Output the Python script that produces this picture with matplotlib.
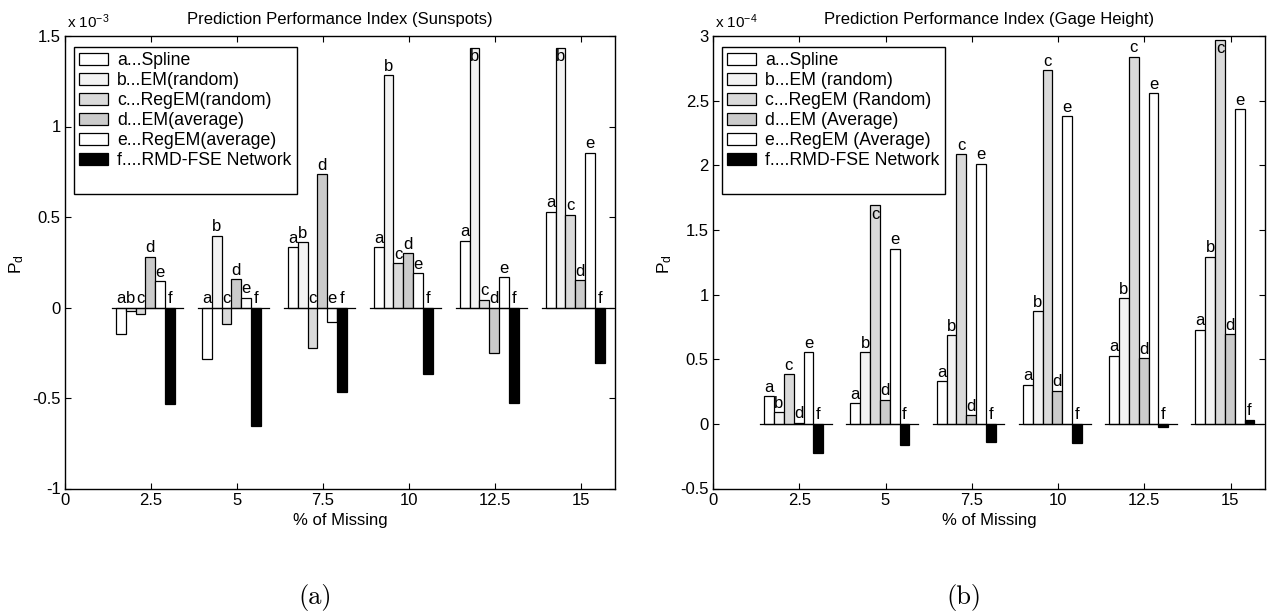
import matplotlib.pyplot as plt
from matplotlib.patches import Patch
import numpy as np

plt.rcParams['font.family'] = ['Liberation Sans', 'DejaVu Sans']
plt.rcParams['axes.unicode_minus'] = False
plt.rcParams['mathtext.fontset'] = 'custom'
plt.rcParams['mathtext.rm'] = 'Liberation Sans'
plt.rcParams['mathtext.it'] = 'Liberation Sans:italic'

missing = [2.5, 5, 7.5, 10, 12.5, 15]
letters = ['a', 'b', 'c', 'd', 'e', 'f']
xtick_labels = ['0', '2.5', '5', '7.5', '10', '12.5', '15']

# Sunspots, P_d x 1e-3
sun_a = [-0.144, -0.286, 0.332, 0.332, 0.369, 0.530]
sun_b = [-0.022, 0.397, 0.360, 1.283, 1.434, 1.436]
sun_c = [-0.037, -0.092, -0.221, 0.246, 0.043, 0.513]
sun_d = [0.281, 0.157, 0.738, 0.299, -0.249, 0.152]
sun_e = [0.146, 0.055, -0.079, 0.190, 0.166, 0.856]
sun_f = [-0.535, -0.655, -0.467, -0.369, -0.526, -0.305]
sun_names = ['a...Spline', 'b...EM(random)', 'c...RegEM(random)',
             'd...EM(average)', 'e...RegEM(average)', 'f....RMD-FSE Network']

# Gage height, P_d x 1e-4
gage_a = [0.212, 0.160, 0.328, 0.302, 0.527, 0.729]
gage_b = [0.090, 0.553, 0.685, 0.871, 0.974, 1.292]
gage_c = [0.385, 1.690, 2.085, 2.736, 2.840, 2.969]
gage_d = [0.008, 0.186, 0.065, 0.256, 0.509, 0.695]
gage_e = [0.553, 1.354, 2.013, 2.382, 2.556, 2.434]
gage_f = [-0.222, -0.163, -0.137, -0.145, -0.026, 0.031]
gage_names = ['a...Spline', 'b...EM (random)', 'c...RegEM (Random)',
              'd...EM (Average)', 'e...RegEM (Average)', 'f....RMD-FSE Network']

colors = ['white', '#f3f3f3', '#dadada', '#cbcbcb', 'white', 'black']
bw = 0.285
shift = -0.16


def draw_panel(fig, ax, series, names, ylim, yticks, ytick_labels, title, expo, caption):
    x = np.array(missing) + shift
    offsets = (np.arange(6) - 2.5) * bw
    for j in range(6):
        ax.bar(x + offsets[j], series[j], width=bw, color=colors[j],
               edgecolor='black', linewidth=0.9, label=names[j], zorder=2)
    # short zero line under every group
    for xc in x:
        ax.plot([xc - 3 * bw - 0.12, xc + 3 * bw + 0.25], [0, 0],
                color='black', lw=0.9, zorder=3)

    ax.set_xlim(0, 16)
    ax.set_ylim(*ylim)
    ax.set_xticks([0] + missing)
    ax.set_xticklabels(xtick_labels)
    ax.set_yticks(yticks)
    ax.set_yticklabels(ytick_labels)
    ax.tick_params(direction='in', top=True, right=True, length=4, width=0.8,
                   labelsize=12, pad=3)
    for s in ax.spines.values():
        s.set_linewidth(1.0)
    ax.set_xlabel('% of Missing', fontsize=12, labelpad=4)
    ax.set_ylabel(r'P$_{\mathrm{d}}$', fontsize=12.5)
    ax.yaxis.set_label_coords(-0.07, 0.496)
    ax.text(0.5, 1.02, title, transform=ax.transAxes, ha='center', va='bottom', fontsize=12)
    ax.text(0.004, 1.018, r'x 10$^{%d}$' % expo, transform=ax.transAxes,
            ha='left', va='baseline', fontsize=11)
    ax.text(0.454, -0.24, caption, transform=ax.transAxes, ha='center', va='center',
            fontsize=19, family='cmr10')

    handles, labels = ax.get_legend_handles_labels()
    # MATLAB legend box leaves an empty strip at the bottom
    handles.append(Patch(facecolor='none', edgecolor='none'))
    labels.append('')
    leg = ax.legend(handles, labels, loc='upper left', bbox_to_anchor=(0.016, 0.976),
                    borderaxespad=0, fancybox=False, edgecolor='black', framealpha=1,
                    fontsize=12.7, labelspacing=0.17, handlelength=1.65, handleheight=0.62,
                    handletextpad=0.5, borderpad=0.3)
    leg.get_frame().set_linewidth(1.0)

    # letters over the bars; put them inside the bar when the axes top or the legend is in the way
    fig.canvas.draw()
    lb = leg.get_window_extent().transformed(ax.transData.inverted())
    span = ylim[1] - ylim[0]
    lab_h = 16 * span / ax.bbox.height
    for j in range(6):
        for i, v in enumerate(series[j]):
            xb = x[i] + offsets[j]
            top = max(v, 0) + lab_h
            blocked = top > ylim[1] - 0.01 * span or (lb.x0 < xb < lb.x1 and top > lb.y0)
            if blocked and v > 0:
                ax.annotate(letters[j], (xb, v), xytext=(0, -1), textcoords='offset points',
                            ha='center', va='top', fontsize=12, zorder=4)
            else:
                ax.annotate(letters[j], (xb, max(v, 0)), xytext=(0, 1), textcoords='offset points',
                            ha='center', va='bottom', fontsize=12, zorder=4)


fig = plt.figure(figsize=(12.72, 6.14), dpi=100)
ax1 = fig.add_axes([65 / 1272, 1 - 488.5 / 614, 550 / 1272, 452.5 / 614])
ax2 = fig.add_axes([713 / 1272, 1 - 488.5 / 614, 552 / 1272, 452.5 / 614])

draw_panel(fig, ax1, [sun_a, sun_b, sun_c, sun_d, sun_e, sun_f], sun_names,
           (-1, 1.5), [-1, -0.5, 0, 0.5, 1, 1.5], ['-1', '-0.5', '0', '0.5', '1', '1.5'],
           'Prediction Performance Index (Sunspots)', -3, '(a)')
draw_panel(fig, ax2, [gage_a, gage_b, gage_c, gage_d, gage_e, gage_f], gage_names,
           (-0.5, 3), [-0.5, 0, 0.5, 1, 1.5, 2, 2.5, 3],
           ['-0.5', '0', '0.5', '1', '1.5', '2', '2.5', '3'],
           'Prediction Performance Index (Gage Height)', -4, '(b)')

fig.savefig('out.png', dpi=100)
